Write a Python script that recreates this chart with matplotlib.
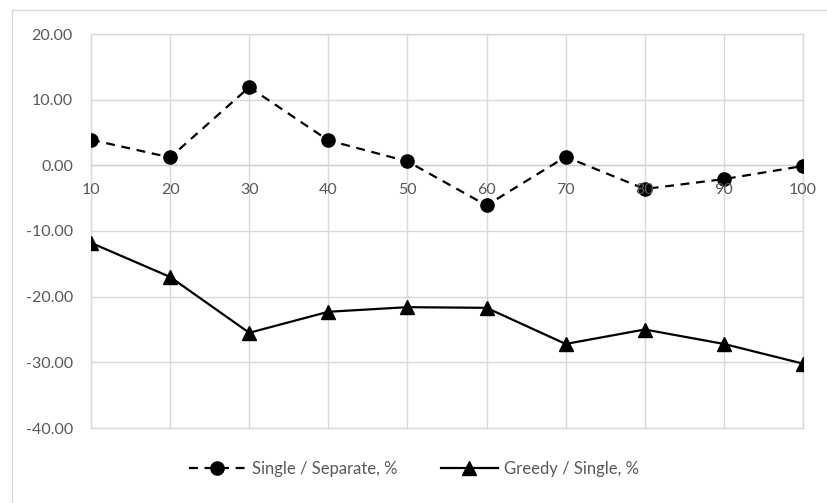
import matplotlib
matplotlib.use("Agg")
import matplotlib.pyplot as plt
from matplotlib.patches import Rectangle
from matplotlib.ticker import FuncFormatter

categories = ["10", "20", "30", "40", "50", "60", "70", "80", "90", "100"]
single_separate = [3.9, 1.2, 11.9, 3.8, 0.6, -6.1, 1.3, -3.6, -2.1, -0.1]
greedy_single = [-11.8, -17.0, -25.5, -22.3, -21.6, -21.7, -27.2, -25.0, -27.2, -30.2]
y_ticks = [-40, -30, -20, -10, 0, 10, 20]

plt.rcParams['font.family'] = ['Lato', 'DejaVu Sans']
W, H = 828, 503
fig = plt.figure(figsize=(W / 100, H / 100), dpi=100)
fig.patch.set_facecolor("white")

# outer chart border
fig.patches.append(Rectangle((12 / W, -0.01), 1.2, (H - 10) / H + 0.01, transform=fig.transFigure,
                             fill=False, edgecolor="#d9d9d9", linewidth=1.0))

left, right, top, bottom = 91, 803, 34, 428
ax = fig.add_axes([left / W, 1 - bottom / H, (right - left) / W, (bottom - top) / H])

x = list(range(len(categories)))
ax.plot(x, single_separate, color="black", linestyle=(0, (4, 3)), linewidth=1.6,
        marker="o", markersize=9.5, label="Single / Separate, %", zorder=3)
ax.plot(x, greedy_single, color="black", linestyle="-", linewidth=1.6,
        marker="^", markersize=9.5, label="Greedy / Single, %", zorder=3)

ax.set_xlim(0, len(categories) - 1)
ax.set_ylim(-40, 20)
ax.set_yticks(y_ticks)
ax.yaxis.set_major_formatter(FuncFormatter(lambda v, p: f"{v:.2f}"))
ax.set_xticks(x)
ax.set_xticklabels([])

ax.grid(True, color="#d9d9d9", linewidth=1.0)
ax.set_axisbelow(True)
for s in ax.spines.values():
    s.set_color("#d9d9d9")
    s.set_linewidth(1.0)
ax.axhline(0, color="#d0d0d0", linewidth=1.0, zorder=1)
ax.tick_params(axis="both", length=0, colors="#595959", labelsize=11.5)
ax.tick_params(axis="y", pad=13)

# category labels along the zero line
for xi, c in zip(x, categories):
    ax.annotate(c, (xi, 0), xytext=(0, -17.5), textcoords="offset points",
                ha="center", va="center", color="#595959", fontsize=11.5, zorder=4)

leg = fig.legend(loc="center", bbox_to_anchor=(0.5, 1 - 469 / H), ncol=2, frameon=False,
                 fontsize=12, handlelength=3.4, columnspacing=2.6, handletextpad=0.4)
for t in leg.get_texts():
    t.set_color("#595959")

fig.savefig("out.png", dpi=100, facecolor="white")
